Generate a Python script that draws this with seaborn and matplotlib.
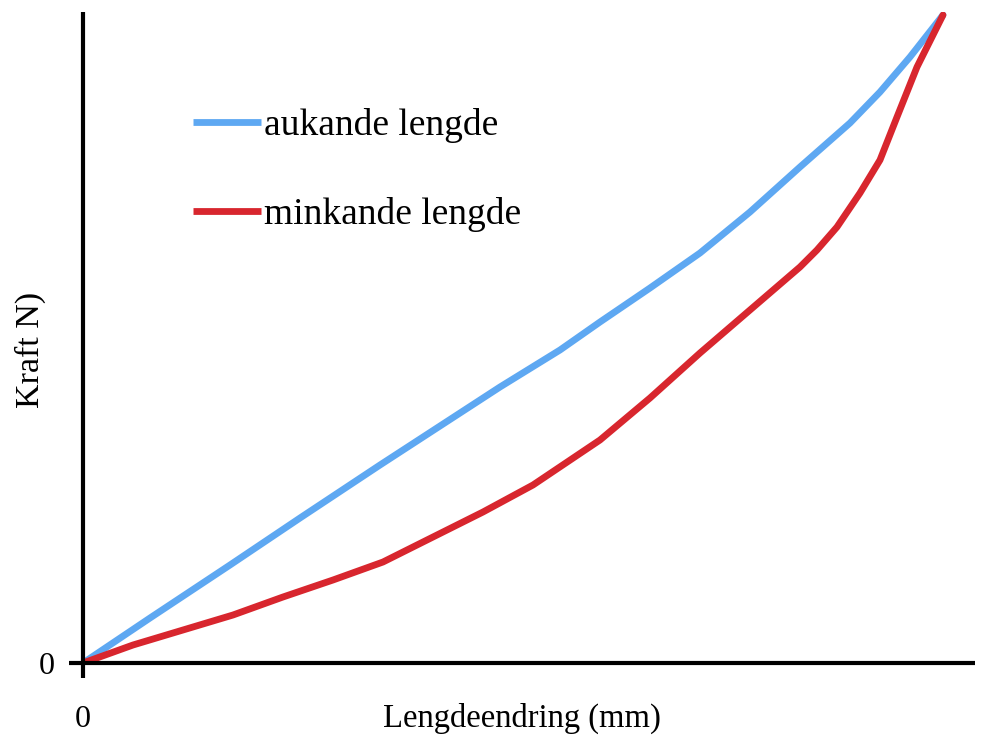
import matplotlib
matplotlib.use("Agg")
import matplotlib.pyplot as plt
import seaborn as sns
import pandas as pd

# Data (arbitrary units)
x_aukande = [0, 67, 147, 217, 297, 357, 417, 477, 517, 567, 617, 667, 717, 767, 797, 827, 860]
y_aukande = [0, 45, 98, 145, 198, 237, 276, 313, 341, 375, 410, 451, 496, 540, 571, 606, 648]
x_minkande = [0, 50, 100, 150, 200, 250, 300, 350, 400, 450, 517, 567, 617, 667, 717, 734,
              754, 777, 797, 814, 834, 860]
y_minkande = [0, 18, 33, 48, 66, 83, 101, 126, 151, 178, 223, 265, 310, 353, 396, 413,
              436, 470, 503, 546, 596, 648]
series_names = ["aukande lengde", "minkande lengde"]
series_colors = ["#5EA8F2", "#D8262E"]
x_label = "Lengdeendring (mm)"
y_label = "Kraft N)"
x_ticks = [0]
y_ticks = [0]
tick_labels = ["0"]

df = pd.concat([
    pd.DataFrame({"x": x_aukande, "y": y_aukande, "serie": series_names[0]}),
    pd.DataFrame({"x": x_minkande, "y": y_minkande, "serie": series_names[1]}),
])

sns.set_style("white")
plt.rcParams["font.family"] = ["Liberation Serif", "DejaVu Serif"]
plt.rcParams["text.color"] = "black"
plt.rcParams["axes.labelcolor"] = "black"
plt.rcParams["xtick.color"] = "black"
plt.rcParams["ytick.color"] = "black"

fig = plt.figure(figsize=(9.85, 7.35), dpi=100)
ax = fig.add_axes([83 / 985, 72 / 735, 892 / 985, 651 / 735])

sns.lineplot(data=df, x="x", y="y", hue="serie", palette=series_colors,
             hue_order=series_names, linewidth=4.9, ax=ax, sort=False,
             estimator=None)
for line in ax.get_lines():
    line.set_solid_joinstyle("round")
    line.set_solid_capstyle("round")

ax.set_xlim(0, 892)
ax.set_ylim(0, 651)
for s in ["top", "right"]:
    ax.spines[s].set_visible(False)
for s in ["left", "bottom"]:
    ax.spines[s].set_linewidth(3)
    ax.spines[s].set_color("black")
    ax.spines[s].set_capstyle("butt")

ax.set_xticks(x_ticks)
ax.set_xticklabels(tick_labels)
ax.set_yticks(y_ticks)
ax.set_yticklabels(tick_labels)
ax.tick_params(axis="x", direction="out", length=11, width=3, pad=19,
               labelsize=23, colors="black", bottom=True)
ax.tick_params(axis="y", direction="out", length=10, width=3, pad=10,
               labelsize=23, colors="black", left=True)

ax.set_xlabel(x_label, fontsize=23.5, va="center", color="black")
ax.xaxis.set_label_coords((522 - 83) / 892, (663 - 718) / 651)
ax.set_ylabel(y_label, fontsize=24.5, va="center", color="black")
ax.yaxis.set_label_coords((30 - 83) / 892, (663 - 350) / 651)

leg = ax.legend(loc="upper left", bbox_to_anchor=((193 - 83) / 892, (663 - 108) / 651),
                frameon=False, fontsize=27, handlelength=1.8, handletextpad=0.08,
                labelspacing=1.43, borderpad=0, borderaxespad=0)
for line in leg.get_lines():
    line.set_linewidth(4.9)
    line.set_solid_capstyle("butt")
for t in leg.get_texts():
    t.set_color("black")

fig.savefig("out.png", dpi=100)
